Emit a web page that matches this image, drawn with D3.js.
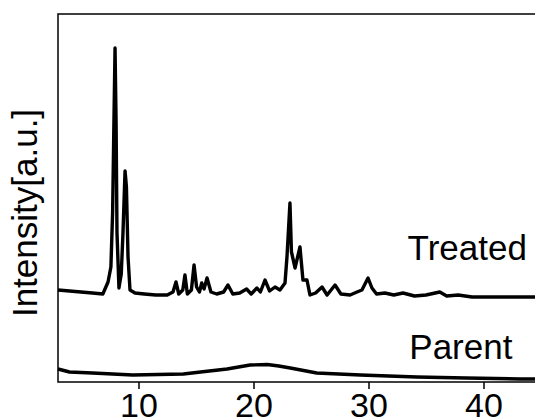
<!DOCTYPE html>
<html>
<head>
<meta charset="utf-8">
<script src="https://cdn.jsdelivr.net/npm/d3@7"></script>
<style>
  body { margin: 0; background: #fff; }
  svg { display: block; font-family: "Liberation Sans", Arial, sans-serif; }
</style>
</head>
<body>
<div id="chart"></div>
<script>
// 2-theta (deg) and intensity [a.u.]
const treatedTheta = [3.0, 4.0, 5.0, 6.0, 6.9, 7.35, 7.6, 7.75, 7.85, 7.96, 8.05, 8.13, 8.3, 8.5, 8.65, 8.83, 8.95, 9.09, 9.26, 9.7,
  10.5, 11.5, 12.5, 13.0, 13.26, 13.5, 13.85, 14.04, 14.25, 14.6, 14.83, 15.05, 15.3, 15.5, 15.7, 15.96, 16.3, 16.8,
  17.4, 17.78, 18.2, 18.8, 19.4, 19.8, 20.3, 20.6, 21.0, 21.4, 21.87, 22.3, 22.74, 22.91, 23.17, 23.3, 23.4, 23.61,
  24.04, 24.3, 24.65, 24.91, 25.4, 25.96, 26.4, 27.09, 27.6, 28.4, 29.0, 29.43, 29.96, 30.3, 30.7, 31.43, 32.2, 33.0,
  34.0, 35.0, 36.2, 36.8, 37.8, 39.0, 41.0, 43.0, 45.0];
const treatedValues = [92, 91, 90, 89, 88, 100, 115, 170, 250, 334, 260, 149, 94, 108, 149, 211, 195, 125, 92, 89,
  88, 87, 87, 90, 100, 88, 92, 107, 88, 92, 117, 95, 90, 99, 93, 104, 90, 88,
  90, 97, 88, 89, 93, 88, 94, 90, 102, 91, 95, 92, 99, 125, 179, 130, 125, 114,
  135, 102, 102, 87, 89, 95, 87, 97, 88, 87, 90, 92, 104, 94, 88, 89, 87, 89,
  86, 87, 90, 86, 87, 85, 85, 85, 85];

const parentTheta = [3.0, 4.0, 6.0, 9.5, 13.9, 15.4, 17.7, 19.7, 21.2, 22.2, 23.2, 25.5, 29.3, 34.2, 38.5, 43.2, 45.0];
const parentValues = [13, 10, 9, 7, 8, 10, 13, 17, 17.5, 16, 14, 9, 7, 5, 4, 3, 3];

const xTicks = [10, 20, 30, 40];
const seriesLabels = ['Treated', 'Parent'];

const width = 535, height = 420;
const margin = { top: 14, left: 58, bottom: 38 };

const svg = d3.select('#chart')
  .append('svg')
  .attr('width', width)
  .attr('height', height);

// plot area runs past the right edge of the picture (cropped figure)
const x = d3.scaleLinear().domain([3, 50]).range([margin.left, margin.left + 47 * 11.5]);
const y = d3.scaleLinear().domain([0, 368]).range([height - margin.bottom, margin.top]);

const line = d3.line()
  .x(d => x(d[0]))
  .y(d => y(d[1]))
  .curve(d3.curveLinear);

const treated = treatedTheta.map((t, i) => [t, treatedValues[i]]);
const parent = parentTheta.map((t, i) => [t, parentValues[i]]);

svg.append('path')
  .attr('d', line(parent))
  .attr('fill', 'none')
  .attr('stroke', '#000')
  .attr('stroke-width', 3.4)
  .attr('stroke-linejoin', 'round');

svg.append('path')
  .attr('d', line(treated))
  .attr('fill', 'none')
  .attr('stroke', '#000')
  .attr('stroke-width', 3.4)
  .attr('stroke-linejoin', 'round');

// frame
svg.append('rect')
  .attr('x', x(3))
  .attr('y', y(368))
  .attr('width', x(50) - x(3))
  .attr('height', y(0) - y(368))
  .attr('fill', 'none')
  .attr('stroke', '#000')
  .attr('stroke-width', 1.5);

// x axis
const xAxis = svg.append('g')
  .attr('transform', `translate(0, ${y(0)})`)
  .call(d3.axisBottom(x).tickValues(xTicks).tickSize(7).tickPadding(4).tickFormat(d3.format('d')));
xAxis.select('.domain').remove();
xAxis.selectAll('line').attr('stroke', '#000').attr('stroke-width', 1.5);
xAxis.selectAll('text')
  .attr('font-family', '"Liberation Sans", Arial, sans-serif')
  .attr('font-size', 34)
  .attr('fill', '#000');

// y label
svg.append('text')
  .attr('transform', `translate(37, 213) rotate(-90)`)
  .attr('text-anchor', 'middle')
  .attr('font-size', 35)
  .attr('fill', '#000')
  .text('Intensity[a.u.]');

// series labels
svg.append('text')
  .attr('x', x(33.4))
  .attr('y', y(122))
  .attr('font-size', 35)
  .attr('fill', '#000')
  .text(seriesLabels[0]);

svg.append('text')
  .attr('x', x(33.55))
  .attr('y', y(23))
  .attr('font-size', 35)
  .attr('fill', '#000')
  .text(seriesLabels[1]);
</script>
</body>
</html>
